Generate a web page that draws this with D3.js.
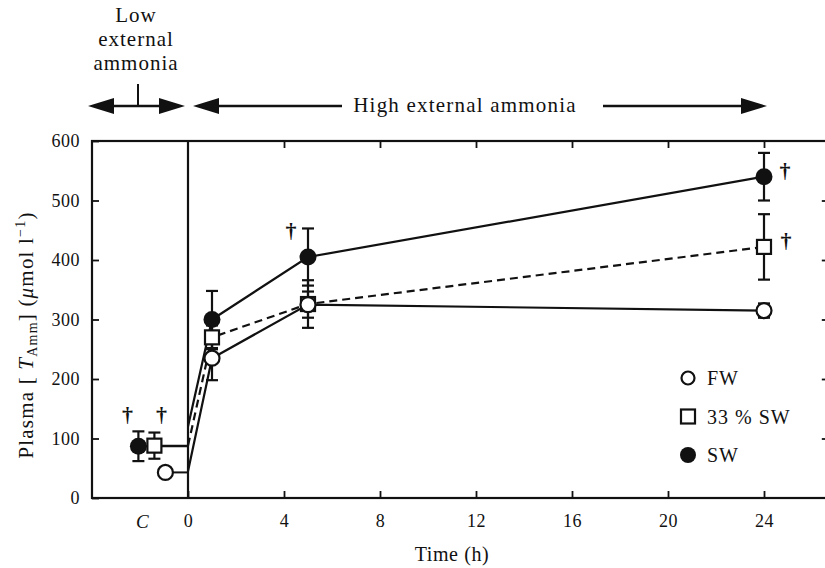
<!DOCTYPE html>
<html>
<head>
<meta charset="utf-8">
<script src="https://cdn.jsdelivr.net/npm/d3@7"></script>
<style>
  body { margin: 0; background: #fff; }
  svg { display: block; }
  text { font-family: "Liberation Serif", "DejaVu Serif", serif; fill: #111; }
</style>
</head>
<body>
<svg id="chart" width="825" height="568"></svg>
<script>
// hours of sampling under high ammonia
var hours = [1, 5, 24];

// control (C) values and time 0
var fwC = 43, fwCErr = 0;
var sw33C = 88, sw33CErr = 22;
var swC = 87, swCErr = 25;
var fw0 = 45, sw33_0 = 88, sw0 = 120;

// series values
var fw = [235, 325, 315];
var fwErr = [37, 22, 12];
var sw33 = [270, 326, 422];
var sw33Err = [20, 40, 55];
var sw = [300, 405, 540];
var swErr = [48, 48, 40];

var xTicks = [0, 4, 8, 12, 16, 20, 24];
var yTicks = [0, 100, 200, 300, 400, 500, 600];

var svg = d3.select("#chart");

var x = d3.scaleLinear().domain([0, 24]).range([188, 764]);
var y = d3.scaleLinear().domain([0, 600]).range([498, 141]);
var xLeft = x(-4), xRight = x(26.7);
var xC = x(-1.9);

// frame and axes (ticks pointing inward)
svg.append("g")
    .attr("transform", "translate(" + xLeft + ",0)")
    .call(d3.axisLeft(y).tickValues(yTicks).tickSize(-7).tickPadding(12))
    .call(function(g) {
        g.select(".domain").remove();
        g.selectAll("text").style("font-size", "18px").style("letter-spacing", "0.5px").attr("fill", "#111");
    });
svg.append("g")
    .attr("transform", "translate(" + xRight + ",0)")
    .call(d3.axisRight(y).tickValues(yTicks.slice(1, 6)).tickSize(-7).tickFormat(""))
    .call(function(g) { g.select(".domain").remove(); });
svg.append("g")
    .attr("transform", "translate(0," + y(0) + ")")
    .call(d3.axisBottom(x).tickValues(xTicks).tickSize(-7).tickPadding(16))
    .call(function(g) {
        g.select(".domain").remove();
        g.selectAll("text").style("font-size", "18px").style("letter-spacing", "0.5px").attr("fill", "#111");
    });
svg.append("g")
    .attr("transform", "translate(0," + y(600) + ")")
    .call(d3.axisTop(x).tickValues(xTicks.slice(1)).tickSize(-7).tickFormat(""))
    .call(function(g) { g.select(".domain").remove(); });
svg.selectAll(".tick line").attr("stroke", "#111").attr("stroke-width", 1.8);

svg.append("rect")
    .attr("x", xLeft).attr("y", y(600))
    .attr("width", xRight - xLeft).attr("height", y(0) - y(600))
    .attr("fill", "none").attr("stroke", "#111").attr("stroke-width", 2.2);

// vertical line at time 0
svg.append("line")
    .attr("x1", x(0)).attr("x2", x(0))
    .attr("y1", y(0)).attr("y2", y(600))
    .attr("stroke", "#111").attr("stroke-width", 2.2);

svg.append("text")
    .attr("x", xC).attr("y", y(0) + 30)
    .attr("text-anchor", "middle")
    .style("font-size", "19px").style("font-style", "italic")
    .text("C");

// series
var series = [
    {name: "FW", c: fwC, cErr: fwCErr, v0: fw0, vals: fw, err: fwErr, off: 23, dash: null},
    {name: "33 % SW", c: sw33C, cErr: sw33CErr, v0: sw33_0, vals: sw33, err: sw33Err, off: 12, dash: "8,5"},
    {name: "SW", c: swC, cErr: swCErr, v0: sw0, vals: sw, err: swErr, off: -4, dash: null}
];

var line = d3.line().x(function(d) { return x(d[0]); }).y(function(d) { return y(d[1]); });

series.forEach(function(s) {
    // control point joined to the time 0 line
    svg.append("line")
        .attr("x1", xC + s.off).attr("x2", x(0))
        .attr("y1", y(s.c)).attr("y2", y(s.c))
        .attr("stroke", "#111").attr("stroke-width", 2);
    var pts = [[0, s.v0]].concat(hours.map(function(h, i) { return [h, s.vals[i]]; }));
    svg.append("path")
        .attr("d", line(pts))
        .attr("fill", "none").attr("stroke", "#111").attr("stroke-width", 2.2)
        .attr("stroke-dasharray", s.dash);
});

function errorBar(cx, v, e) {
    if (!e) return;
    var g = svg.append("g").attr("stroke", "#111").attr("stroke-width", 2.2);
    g.append("line").attr("x1", cx).attr("x2", cx).attr("y1", y(v - e)).attr("y2", y(v + e));
    [v - e, v + e].forEach(function(t) {
        g.append("line").attr("x1", cx - 6).attr("x2", cx + 6).attr("y1", y(t)).attr("y2", y(t));
    });
}

series.forEach(function(s) {
    errorBar(xC + s.off, s.c, s.cErr);
    hours.forEach(function(h, i) { errorBar(x(h), s.vals[i], s.err[i]); });
});

function marker(name, cx, cy) {
    if (name === "FW") {
        svg.append("circle").attr("cx", cx).attr("cy", cy).attr("r", 7.5)
            .attr("fill", "#fff").attr("stroke", "#111").attr("stroke-width", 2.2);
    } else if (name === "SW") {
        svg.append("circle").attr("cx", cx).attr("cy", cy).attr("r", 8.5)
            .attr("fill", "#111");
    } else {
        svg.append("rect").attr("x", cx - 7).attr("y", cy - 7).attr("width", 14).attr("height", 14)
            .attr("fill", "#fff").attr("stroke", "#111").attr("stroke-width", 2.2);
    }
}

[series[2], series[1], series[0]].forEach(function(s) {
    marker(s.name, xC + s.off, y(s.c));
    hours.forEach(function(h, i) { marker(s.name, x(h), y(s.vals[i])); });
});

// significance daggers
function dagger(px, py) {
    svg.append("text").attr("x", px).attr("y", py)
        .attr("text-anchor", "middle").style("font-size", "22px").style("font-weight", "bold")
        .text("\u2020");
}
dagger(xC - 15, y(swC) - 24);
dagger(xC + 19, y(sw33C) - 24);
dagger(x(5) - 17, y(sw[1] + swErr[1]) + 10);
dagger(x(24) + 21, y(sw[2]) + 1);
dagger(x(24) + 22, y(sw33[2]) + 1);

// legend
var legend = svg.append("g").attr("transform", "translate(688,378)");
series.forEach(function(s, i) {
    var gy = i * 38.5;
    var cx = 0;
    if (s.name === "FW") {
        legend.append("circle").attr("cx", cx).attr("cy", gy).attr("r", 6.5)
            .attr("fill", "#fff").attr("stroke", "#111").attr("stroke-width", 2.2);
    } else if (s.name === "SW") {
        legend.append("circle").attr("cx", cx).attr("cy", gy).attr("r", 8).attr("fill", "#111");
    } else {
        legend.append("rect").attr("x", cx - 7).attr("y", gy - 7).attr("width", 14).attr("height", 14)
            .attr("fill", "#fff").attr("stroke", "#111").attr("stroke-width", 2.2);
    }
    legend.append("text").attr("x", 19).attr("y", gy + 7)
        .style("font-size", "20px").style("letter-spacing", "1px").text(s.name);
});

// axis titles
svg.append("text")
    .attr("x", 452).attr("y", 561)
    .attr("text-anchor", "middle").style("font-size", "20px").style("letter-spacing", "0.6px")
    .text("Time (h)");

var yl = svg.append("text")
    .attr("transform", "translate(33,335) rotate(-90)")
    .attr("text-anchor", "middle").style("font-size", "21px").style("letter-spacing", "1.2px");
yl.append("tspan").text("Plasma [ ");
yl.append("tspan").style("font-style", "italic").text("T");
yl.append("tspan").attr("dy", 4).style("font-size", "14px").text("Amm");
yl.append("tspan").attr("dy", -4).text("] (");
yl.append("tspan").style("font-style", "italic").text("\u03bc");
yl.append("tspan").text("mol l");
yl.append("tspan").attr("dy", -8).style("font-size", "14px").text("\u22121");
yl.append("tspan").attr("dy", 8).text(")");

// top annotations
var ann = svg.append("g");
["Low", "external", "ammonia"].forEach(function(t, i) {
    ann.append("text").attr("x", 136).attr("y", 22 + i * 24)
        .attr("text-anchor", "middle").style("font-size", "21px").style("letter-spacing", "1px").text(t);
});
var ay = 106;
function head(tip, dir) {
    ann.append("path")
        .attr("d", "M" + tip + "," + ay + "L" + (tip - dir * 26) + "," + (ay - 8) +
            "L" + (tip - dir * 26) + "," + (ay + 8) + "Z")
        .attr("fill", "#111");
}
ann.append("line").attr("x1", 95).attr("x2", 178).attr("y1", ay).attr("y2", ay)
    .attr("stroke", "#111").attr("stroke-width", 2.5);
ann.append("line").attr("x1", 138).attr("x2", 138).attr("y1", ay - 22).attr("y2", ay)
    .attr("stroke", "#111").attr("stroke-width", 2);
head(88, -1);
head(185, 1);
head(193, -1);
ann.append("line").attr("x1", 200).attr("x2", 342).attr("y1", ay).attr("y2", ay)
    .attr("stroke", "#111").attr("stroke-width", 2.5);
ann.append("text").attr("x", 465).attr("y", ay + 6)
    .attr("text-anchor", "middle").style("font-size", "21px").style("letter-spacing", "1.2px")
    .text("High external ammonia");
ann.append("line").attr("x1", 603).attr("x2", 760).attr("y1", ay).attr("y2", ay)
    .attr("stroke", "#111").attr("stroke-width", 2.5);
head(767, 1);
</script>
</body>
</html>
